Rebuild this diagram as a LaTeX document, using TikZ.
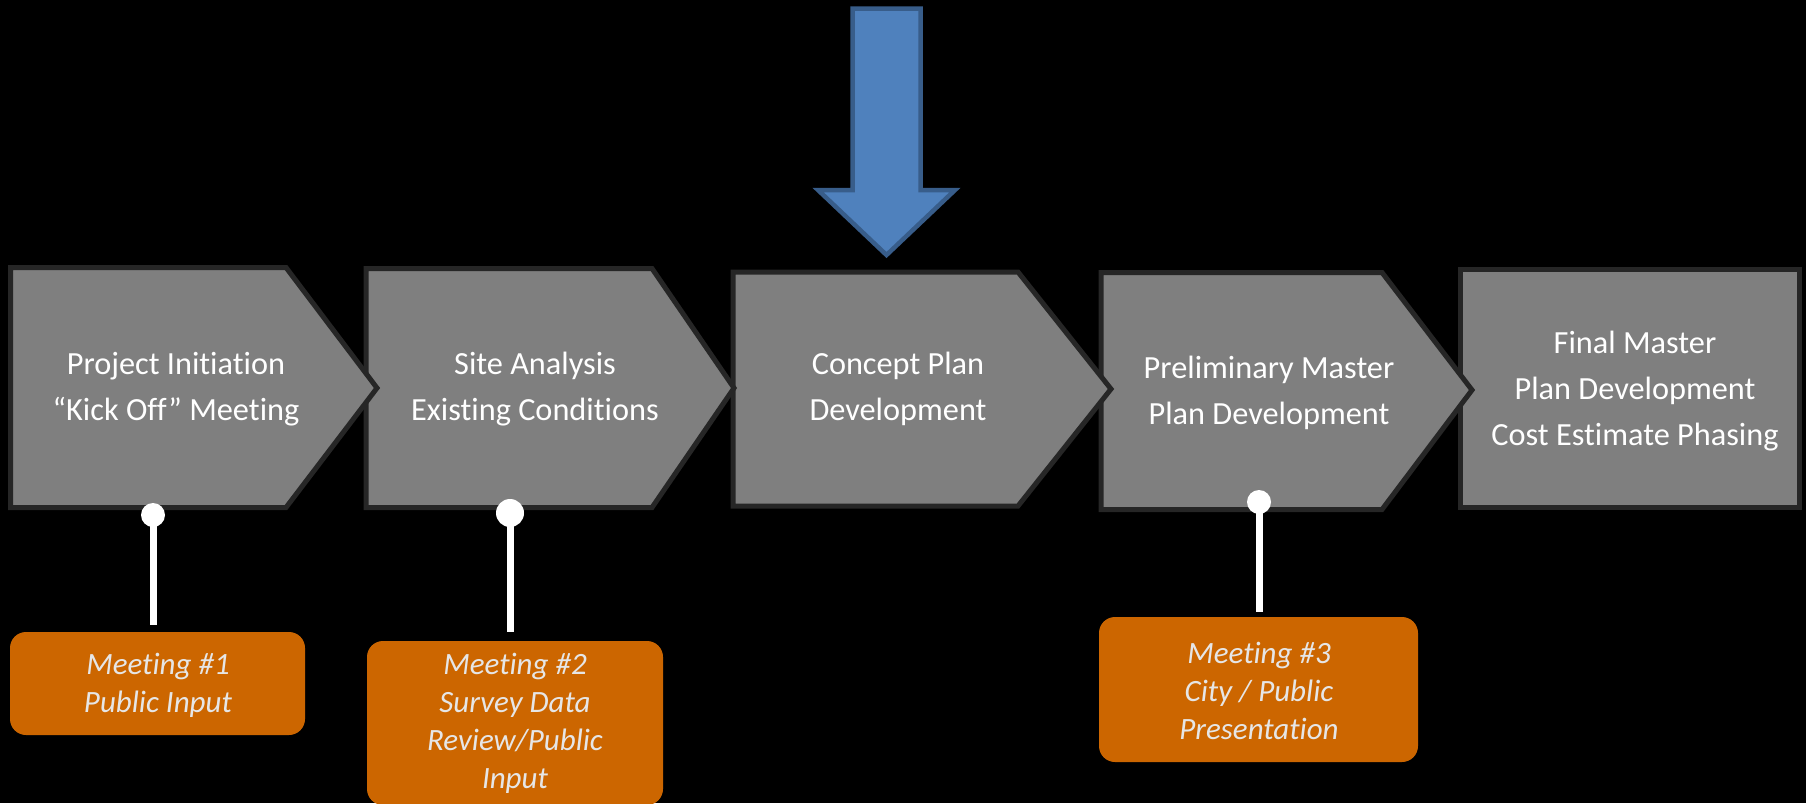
\documentclass[tikz,border=0pt]{standalone}
\usepackage{fontspec}
\setmainfont{Carlito}[Ligatures={TeX,NoCommon}]
\definecolor{boxgray}{HTML}{7F7F7F}
\definecolor{edgegray}{HTML}{262626}
\definecolor{meetorange}{HTML}{CC6600}
\definecolor{meettext}{HTML}{E6E6E6}
\definecolor{arrowblue}{HTML}{4F81BD}
\definecolor{arrowedge}{HTML}{385D8A}
\tikzset{
  stage/.style={fill=boxgray, draw=edgegray, line width=5pt, line join=miter},
  stagetext/.style={text=white, align=center, font=\fontsize{32.3}{46}\selectfont, inner sep=0pt},
  meetbox/.style={fill=meetorange, draw=none, rounded corners=16pt},
  meettxt/.style={text=meettext, align=center, font=\fontsize{31}{38}\selectfont\itshape, inner sep=0pt},
  pin/.style={circle, fill=white, draw=none, minimum size=24pt, inner sep=0pt},
  pinline/.style={draw=white, line width=7pt},
}
\begin{document}
\begin{tikzpicture}[x=1pt, y=-1pt]
\fill[black] (0,0) rectangle (1806,803);
\useasboundingbox (0,0) rectangle (1806,803);

% stages, last first so that each tip lies over the next stage
\draw[stage] (1460,269.5) -- (1799,269.5) -- (1799,507.5) -- (1460,507.5) -- cycle;
\draw[stage] (1101,272.5) -- (1382,272.5) -- (1472,390) -- (1382,509.5) -- (1101,509.5) -- cycle;
\draw[stage] (733,272) -- (1018,272) -- (1111,389) -- (1018,506) -- (733,506) -- cycle;
\draw[stage] (366,268.5) -- (652,268.5) -- (734,388) -- (652,507.5) -- (366,507.5) -- cycle;
\draw[stage] (10.5,267.5) -- (286,267.5) -- (377,388) -- (286,507.5) -- (10.5,507.5) -- cycle;

\node[stagetext] (s1) at (176,389) {Project Initiation\\“Kick Off” Meeting};
\node[stagetext] (s2) at (535,389) {Site Analysis\\Existing Conditions};
\node[stagetext] (s3) at (898,389) {Concept Plan\\Development};
\node[stagetext] (s4) at (1269,393) {Preliminary Master\\Plan Development};
\node[stagetext] (s5) at (1635,391) {Final Master\\Plan Development\\Cost Estimate Phasing};

% blue arrow
\draw[fill=arrowblue, draw=arrowedge, line width=4.5pt, line join=miter]
  (852.5,8.5) -- (920.5,8.5) -- (920.5,190) -- (955,190) -- (886.5,255)
  -- (818,190) -- (852.5,190) -- cycle;

% meeting boxes
\fill[meetbox] (10,632) rectangle (305,735);
\fill[meetbox] (367,641) rectangle (663,805);
\fill[meetbox] (1099,617) rectangle (1418,762);
\node[meettxt] (m1) at (158,685) {Meeting \#1\\Public Input};
\node[meettxt] (m2) at (515,723) {Meeting \#2\\Survey Data\\Review/Public\\Input};
\node[meettxt] (m3) at (1259,691) {Meeting \#3\\City / Public\\Presentation};

% pins
\coordinate (e1) at (153,625);
\coordinate (e2) at (510,632);
\coordinate (e3) at (1259,612);
\node[pin] (p1) at (153,515) {};
\node[pin, minimum height=28pt] (p2) at (510,513) {};
\node[pin] (p3) at (1259,502) {};
\draw[pinline] (p1.center) -- (e1);
\draw[pinline] (p2.center) -- (e2);
\draw[pinline] (p3.center) -- (e3);
\end{tikzpicture}
\end{document}
